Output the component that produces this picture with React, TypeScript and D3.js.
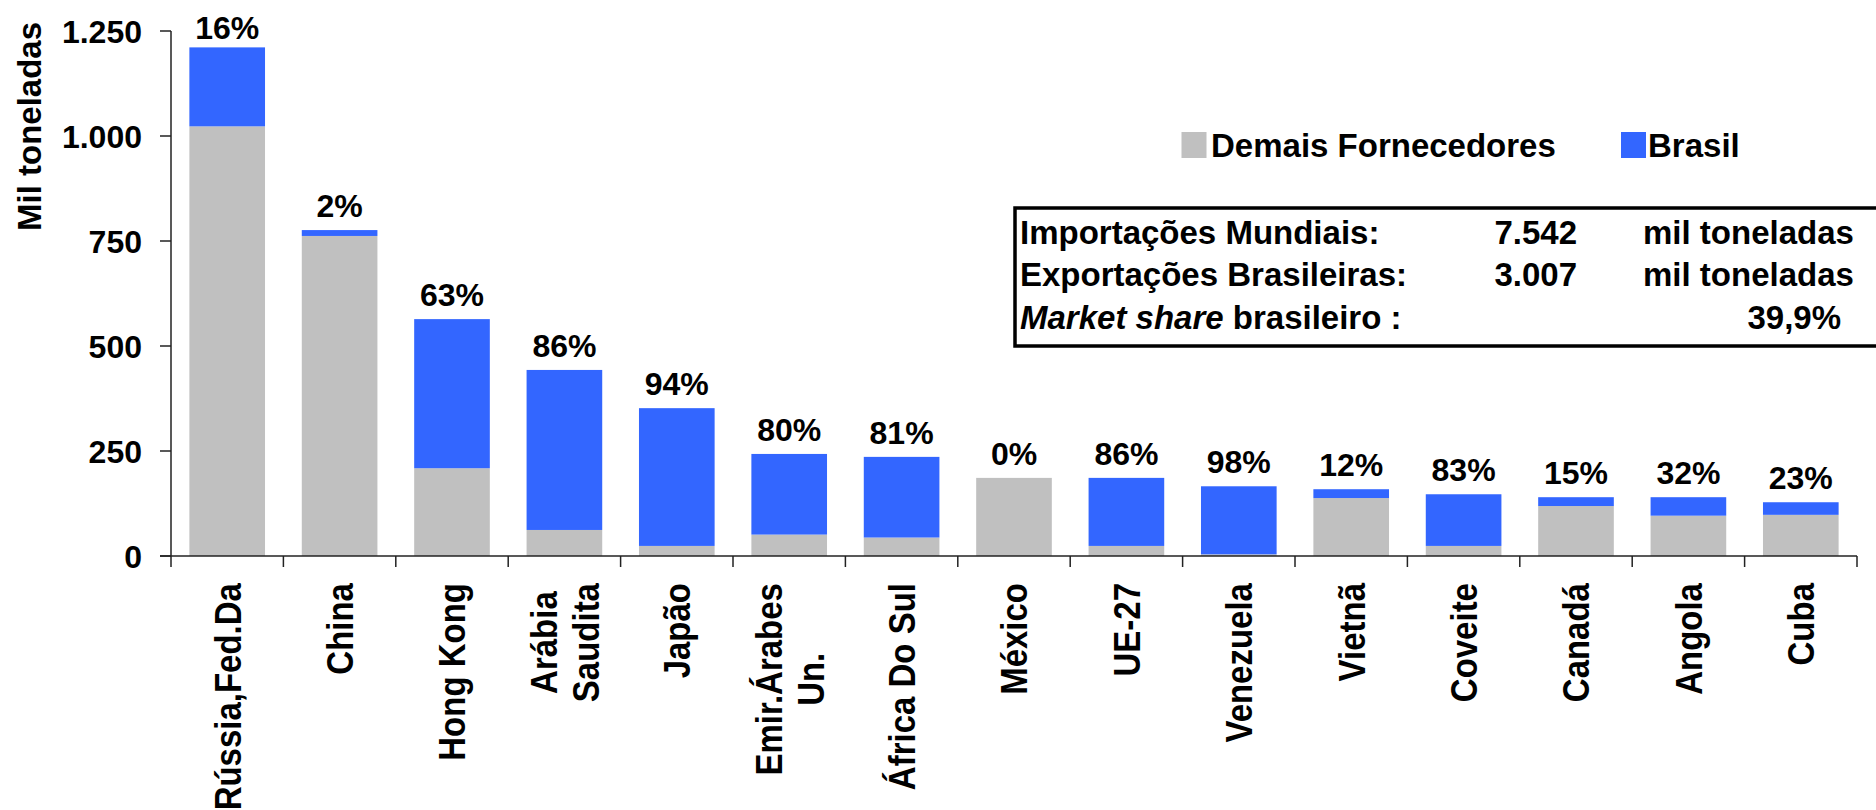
import React, { useEffect, useRef } from "react";
import * as d3 from "d3";

const categories = [
  "Rússia,Fed.Da",
  "China",
  "Hong Kong",
  "Arábia\nSaudita",
  "Japão",
  "Emir.Árabes\nUn.",
  "África Do Sul",
  "México",
  "UE-27",
  "Venezuela",
  "Vietnã",
  "Coveite",
  "Canadá",
  "Angola",
  "Cuba",
];
const demais = [1023, 762, 209, 62, 24, 51, 44, 186, 24, 4, 138, 24, 119, 96, 98];
const brasil = [188, 14, 355, 381, 328, 192, 192, 0, 162, 162, 21, 123, 21, 44, 30];
const shareLabels = ["16%", "2%", "63%", "86%", "94%", "80%", "81%", "0%", "86%", "98%", "12%", "83%", "15%", "32%", "23%"];
const yTicks = [0, 250, 500, 750, 1000, 1250];
const yTitle = "Mil toneladas";
const seriesNames = ["Demais Fornecedores", "Brasil"];
const seriesColors = ["#C0C0C0", "#3366FF"];
const tableLabels = ["Importações Mundiais:", "Exportações Brasileiras:"];
const tableValues = ["7.542", "3.007"];
const tableUnit = "mil toneladas";
const shareTotal = "39,9%";

const W = 1876;
const H = 810;
const FONT = "'Liberation Sans', Arial, sans-serif";

const fmt = d3.formatLocale({ decimal: ",", thousands: ".", grouping: [3], currency: ["R$", ""] }).format(",d");

export default function App() {
  const catRef = useRef<SVGGElement>(null);

  const x = d3
    .scaleBand<number>()
    .domain(d3.range(categories.length))
    .range([171, 1857])
    .paddingInner(0.327)
    .paddingOuter(0.1635);
  const y = d3.scaleLinear().domain([0, 1250]).range([556, 31]);
  const bw = x.bandwidth();
  const boundaries = d3.range(categories.length + 1).map((i) => x.range()[0] + i * x.step());

  useEffect(() => {
    const g = d3.select(catRef.current);
    g.selectAll("*").remove();
    categories.forEach((c, i) => {
      const lines = c.split("\n");
      const cx = (x(i) as number) + bw / 2;
      const grp = g.append("g");
      const texts = lines.map((ln) =>
        grp
          .append("text")
          .text(ln)
          .attr("font-family", FONT)
          .attr("font-weight", "bold")
          .attr("font-size", 33)
          .attr("text-anchor", "middle")
          .attr("dy", "0.36em")
          .attr("fill", "#000")
      );
      const maxLen = d3.max(texts, (t) => (t.node() as SVGTextElement).getComputedTextLength()) || 0;
      const yc = 583 + maxLen / 2;
      const spacing = 42;
      texts.forEach((t, k) => {
        const off = (k - (lines.length - 1) / 2) * spacing;
        t.attr("transform", `translate(${cx + off},${yc}) rotate(-90) scale(1,1.12)`);
      });
    });
  }, []);

  const tFont = { fontFamily: FONT, fontWeight: "bold" as const, fontSize: 33, fill: "#000" };

  return (
    <svg
      width={W}
      height={H}
      style={{ position: "absolute", left: 0, top: 0, display: "block", background: "#fff" }}
    >
      {/* bars */}
      {categories.map((c, i) => {
        const x0 = x(i) as number;
        return (
          <g key={c}>
            <rect x={x0} y={y(demais[i])} width={bw} height={y(0) - y(demais[i])} fill={seriesColors[0]} />
            {brasil[i] > 0 && (
              <rect
                x={x0}
                y={y(demais[i] + brasil[i])}
                width={bw}
                height={y(demais[i]) - y(demais[i] + brasil[i])}
                fill={seriesColors[1]}
              />
            )}
            <text
              x={x0 + bw / 2}
              y={Math.max(y(demais[i] + brasil[i]) - 13, 39)}
              textAnchor="middle"
              fontFamily={FONT}
              fontWeight="bold"
              fontSize={32}
              fill="#000"
            >
              {shareLabels[i]}
            </text>
          </g>
        );
      })}

      {/* y axis */}
      <line x1={171} x2={171} y1={y(1250)} y2={y(0)} stroke="#222" strokeWidth={1.5} />
      {yTicks.map((t) => (
        <g key={t}>
          <line x1={160} x2={171} y1={y(t)} y2={y(t)} stroke="#222" strokeWidth={1.5} />
          <text
            x={142}
            y={y(t)}
            dy="0.36em"
            textAnchor="end"
            fontFamily={FONT}
            fontWeight="bold"
            fontSize={32}
            fill="#000"
          >
            {fmt(t)}
          </text>
        </g>
      ))}
      <text
        transform={`translate(40.5,126.5) rotate(-90)`}
        textAnchor="middle"
        fontFamily={FONT}
        fontWeight="bold"
        fontSize={33}
        fill="#000"
      >
        {yTitle}
      </text>

      {/* x axis */}
      <line x1={160} x2={boundaries[boundaries.length - 1]} y1={y(0)} y2={y(0)} stroke="#222" strokeWidth={1.5} />
      {boundaries.map((b, i) => (
        <line key={i} x1={b} x2={b} y1={y(0)} y2={y(0) + 11} stroke="#222" strokeWidth={1.5} />
      ))}
      <g ref={catRef} />

      {/* legend */}
      {[
        { sx: 1181.5, tx: 1211 },
        { sx: 1621, tx: 1648 },
      ].map((p, k) => (
        <g key={k}>
          <rect x={p.sx} y={132} width={25} height={26} fill={seriesColors[k]} />
          <text x={p.tx} y={157} {...tFont}>
            {seriesNames[k]}
          </text>
        </g>
      ))}

      {/* info table */}
      <rect x={1015} y={208} width={900} height={138} fill="none" stroke="#000" strokeWidth={3.5} />
      {tableLabels.map((l, k) => (
        <g key={l}>
          <text x={1020} y={244 + k * 42} {...tFont}>
            {l}
          </text>
          <text x={1577} y={244 + k * 42} textAnchor="end" {...tFont}>
            {tableValues[k]}
          </text>
          <text x={1643} y={244 + k * 42} {...tFont}>
            {tableUnit}
          </text>
        </g>
      ))}
      <text x={1020} y={329} {...tFont}>
        <tspan fontStyle="italic">Market share</tspan>
        <tspan> brasileiro :</tspan>
      </text>
      <text x={1841} y={329} textAnchor="end" {...tFont}>
        {shareTotal}
      </text>
    </svg>
  );
}
